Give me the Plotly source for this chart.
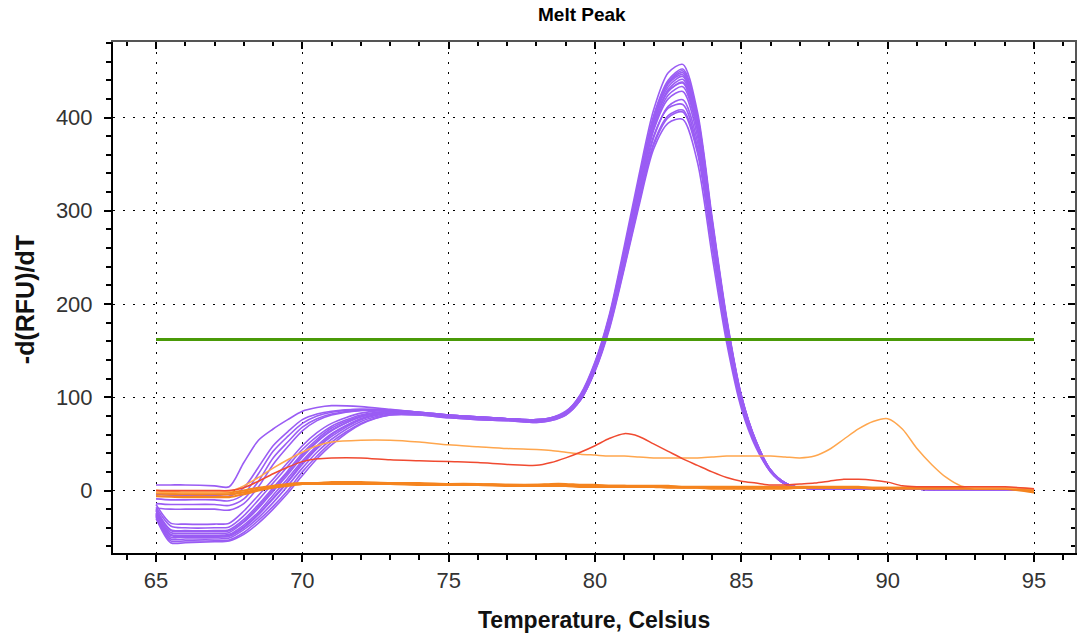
import plotly.graph_objects as go

# ---------------- data ----------------
T_PURPLE = [65.0, 65.5, 66.0, 67.0, 67.5, 68.0, 68.5, 69.0, 69.5, 70.0, 70.5, 71.0, 72.0, 73.0,
            74.0, 75.0, 76.0, 77.0, 78.0, 78.5, 79.0, 79.5, 80.0, 80.5, 81.0, 81.5, 82.0, 82.5,
            83.0, 83.5, 84.0, 84.5, 85.0, 85.5, 86.0, 86.5, 87.0, 88.0, 90.0, 92.0, 95.0]

PURPLE_A = [6, 6, 6, 5, 4, 30, 54, 66, 76, 85, 89, 91, 90, 87, 84, 81, 79, 77, 76, 78, 84, 100, 132, 180, 246, 316, 380, 410, 414, 368, 264, 165, 92, 48, 20, 7, 3, 2, 2, 1, 1]
PURPLE_B1 = [-4, -5, -5, -5, -6, 3, 25, 48, 63, 76, 82, 85, 87, 86, 84, 81, 79, 77, 75, 77, 82, 97, 128, 174, 238, 305, 366, 394, 398, 352, 252, 158, 88, 46, 20, 7, 3, 2, 2, 1, 1]
PURPLE_B2 = [-9, -10, -10, -10, -11, -4, 18, 42, 58, 72, 80, 84, 87, 86, 83, 80, 78, 77, 75, 77, 83, 99, 133, 183, 252, 325, 392, 428, 437, 388, 280, 175, 97, 50, 21, 7, 3, 2, 2, 1, 1]
PURPLE_B3 = [-14, -15, -15, -15, -16, -9, 10, 35, 52, 68, 77, 82, 86, 85, 82, 79, 77, 76, 74, 76, 81, 97, 130, 180, 248, 320, 386, 420, 428, 380, 272, 170, 95, 49, 21, 7, 3, 2, 2, 1, 1]
PURPLE_B4 = [-19, -20, -20, -20, -21, -14, 4, 28, 47, 64, 75, 81, 86, 85, 82, 79, 77, 76, 74, 76, 82, 100, 135, 186, 256, 330, 398, 436, 446, 396, 286, 180, 100, 52, 22, 8, 3, 2, 2, 1, 1]
PURPLE_C1 = [-15, -35, -36, -36, -35, -22, -5, 12, 30, 48, 62, 72, 83, 86, 84, 81, 79, 77, 76, 78, 85, 102, 137, 188, 258, 333, 402, 440, 452, 402, 290, 183, 102, 53, 22, 8, 3, 2, 2, 1, 1]
PURPLE_C2 = [-18, -38, -40, -40, -39, -27, -10, 8, 26, 44, 58, 69, 81, 85, 83, 80, 78, 77, 75, 77, 84, 101, 135, 185, 254, 328, 396, 433, 444, 395, 285, 180, 100, 52, 22, 8, 3, 2, 2, 1, 1]
PURPLE_C3 = [-20, -42, -43, -43, -42, -31, -15, 3, 21, 40, 55, 67, 80, 84, 82, 80, 78, 77, 75, 77, 83, 100, 133, 182, 250, 322, 388, 424, 433, 386, 278, 176, 98, 51, 21, 7, 3, 2, 2, 1, 1]
PURPLE_C4 = [-22, -45, -46, -46, -45, -34, -19, -1, 17, 36, 52, 64, 79, 85, 84, 81, 79, 77, 76, 78, 84, 102, 136, 187, 257, 331, 399, 437, 448, 398, 287, 181, 100, 52, 22, 8, 3, 2, 2, 1, 1]
PURPLE_C5 = [-24, -47, -48, -48, -47, -37, -23, -5, 13, 32, 48, 61, 77, 84, 83, 80, 78, 77, 75, 77, 83, 100, 134, 184, 252, 325, 392, 428, 438, 390, 281, 177, 98, 51, 21, 7, 3, 2, 2, 1, 1]
PURPLE_C6 = [-25, -50, -50, -50, -49, -40, -26, -9, 9, 28, 45, 58, 76, 83, 82, 79, 77, 76, 74, 76, 82, 97, 129, 176, 240, 308, 370, 400, 406, 362, 262, 166, 93, 49, 20, 7, 3, 2, 2, 1, 1]
PURPLE_C7 = [-27, -52, -52, -52, -51, -42, -29, -13, 5, 24, 41, 55, 74, 82, 82, 79, 77, 76, 74, 76, 83, 101, 135, 186, 256, 330, 399, 438, 450, 401, 289, 182, 101, 53, 22, 8, 3, 2, 2, 1, 1]
PURPLE_C8 = [-28, -54, -54, -54, -53, -45, -32, -17, 0, 20, 37, 52, 72, 81, 81, 78, 76, 75, 73, 75, 81, 97, 129, 177, 243, 313, 378, 412, 419, 374, 269, 170, 95, 49, 21, 7, 3, 2, 2, 1, 1]
PURPLE_C9 = [-30, -56, -56, -55, -54, -47, -35, -20, -3, 16, 34, 49, 71, 81, 81, 78, 76, 75, 73, 75, 82, 99, 132, 182, 251, 324, 392, 430, 441, 392, 283, 179, 99, 51, 21, 7, 3, 2, 2, 1, 1]
PURPLE_C10 = [-26, -48, -49, -49, -48, -39, -25, -8, 10, 30, 46, 60, 77, 84, 83, 80, 78, 77, 75, 77, 84, 103, 138, 190, 262, 338, 408, 448, 457, 406, 293, 185, 102, 53, 22, 8, 3, 2, 2, 1, 1]
PURPLE_C11 = [-21, -43, -44, -44, -43, -33, -17, 1, 19, 38, 53, 65, 79, 84, 82, 79, 77, 76, 74, 76, 82, 98, 130, 178, 242, 310, 372, 402, 408, 366, 264, 167, 94, 49, 21, 7, 3, 2, 2, 1, 1]

PURPLE_CURVES = [PURPLE_A, PURPLE_B1, PURPLE_B2, PURPLE_B3, PURPLE_B4, PURPLE_C1, PURPLE_C2,
                 PURPLE_C3, PURPLE_C4, PURPLE_C5, PURPLE_C6, PURPLE_C7, PURPLE_C8, PURPLE_C9,
                 PURPLE_C10, PURPLE_C11]

T_OTHER = [65, 66, 67, 67.5, 68, 68.5, 69, 69.5, 70, 70.5, 71, 72, 73, 74, 75, 76, 77, 78, 78.5, 79,
           79.5, 80, 80.5, 81, 81.5, 82, 82.5, 83, 83.5, 84, 84.5, 85, 85.5, 86, 86.5, 87, 87.5, 88,
           88.5, 89, 89.5, 90, 90.5, 91, 91.5, 92, 92.5, 93, 94, 95]

LIGHT_ORANGE = [-2, -2, -2, -1, 5, 14, 24, 33, 41, 48, 52, 54, 54, 52, 49, 47, 45, 44, 43, 41, 39, 38, 37, 37, 36, 35, 35, 35, 35, 36, 37, 37, 37, 37, 36, 35, 37, 44, 55, 66, 74, 77, 66, 45, 28, 14, 5, 3, 3, 2]
RED = [0, 0, 0, 0, 3, 10, 18, 25, 31, 34, 35, 35, 33, 32, 31, 30, 28, 27, 30, 35, 41, 48, 56, 61, 58, 50, 42, 34, 27, 20, 14, 10, 8, 6, 6, 7, 8, 10, 12, 12, 11, 9, 5, 4, 4, 4, 4, 4, 4, 2]
ORANGE_1 = [-3, -4, -4, -4, -2, 1, 4, 6, 7, 8, 8, 8, 8, 7, 7, 7, 6, 6, 6, 5, 5, 5, 5, 5, 5, 5, 5, 4, 4, 4, 4, 4, 4, 4, 4, 4, 4, 4, 4, 4, 3, 3, 3, 3, 3, 3, 3, 3, 3, 1]
ORANGE_2 = [-6, -7, -7, -7, -4, 0, 3, 5, 7, 7, 7, 7, 7, 6, 6, 6, 5, 5, 5, 5, 4, 4, 4, 4, 4, 4, 4, 3, 3, 3, 3, 3, 3, 3, 3, 3, 3, 3, 3, 3, 3, 3, 3, 3, 3, 3, 3, 2, 2, -2]
ORANGE_3 = [0, -2, -2, -2, 0, 3, 5, 7, 8, 8, 9, 9, 8, 8, 7, 7, 6, 6, 7, 7, 6, 6, 5, 5, 4, 4, 3, 3, 3, 2, 2, 2, 2, 2, 2, 3, 3, 3, 3, 3, 2, 2, 2, 2, 2, 2, 2, 2, 2, 0]

THRESHOLD_X = [65, 95]
THRESHOLD_Y = [162, 162]

X_TICKS = [65, 70, 75, 80, 85, 90, 95]
Y_TICKS = [0, 100, 200, 300, 400]

# ---------------- figure ----------------
PURPLE = "#9a5cf4"
fig = go.Figure()

for ys in PURPLE_CURVES:
    fig.add_trace(go.Scatter(x=T_PURPLE, y=ys, mode="lines",
                             line=dict(color=PURPLE, width=1.6, shape="spline", smoothing=0.8),
                             hoverinfo="skip"))

for ys in (ORANGE_1, ORANGE_2, ORANGE_3):
    fig.add_trace(go.Scatter(x=T_OTHER, y=ys, mode="lines",
                             line=dict(color="#f5841f", width=2.2, shape="spline", smoothing=0.6),
                             hoverinfo="skip"))

fig.add_trace(go.Scatter(x=T_OTHER, y=LIGHT_ORANGE, mode="lines",
                         line=dict(color="#ffa64d", width=1.5, shape="spline", smoothing=0.8),
                         hoverinfo="skip"))
fig.add_trace(go.Scatter(x=T_OTHER, y=RED, mode="lines",
                         line=dict(color="#f04a30", width=1.5, shape="spline", smoothing=0.8),
                         hoverinfo="skip"))
fig.add_trace(go.Scatter(x=THRESHOLD_X, y=THRESHOLD_Y, mode="lines",
                         line=dict(color="#4a9a08", width=3), hoverinfo="skip"))

# invisible trace to create mirrored (inside-ticked) top/right axes
fig.add_trace(go.Scatter(x=[None], y=[None], xaxis="x2", yaxis="y2", mode="lines",
                         hoverinfo="skip"))

XR = [63.53, 96.4]
YR = [-67, 481]
tickfont = dict(family="Liberation Sans, Arial, sans-serif", size=22, color="#333333")

fig.update_layout(
    width=1077, height=636,
    margin=dict(l=113, r=2, t=42, b=83),
    paper_bgcolor="white", plot_bgcolor="white",
    showlegend=False,
    xaxis=dict(range=XR, tickvals=X_TICKS, ticks="outside", ticklen=7, tickwidth=1.5,
               tickcolor="black", showline=True, linecolor="black", linewidth=2,
               showgrid=True, gridcolor="black", gridwidth=1, griddash="2px,8px",
               zeroline=False, tickfont=tickfont, ticklabelstandoff=0,
               minor=dict(dtick=1, ticks="outside", ticklen=5, tickwidth=1.5,
                          tickcolor="black", showgrid=False)),
    yaxis=dict(range=YR, tickvals=Y_TICKS, ticks="outside", ticklen=7, tickwidth=1.5,
               tickcolor="black", showline=True, linecolor="black", linewidth=2,
               showgrid=True, gridcolor="black", gridwidth=1, griddash="2px,8px",
               zeroline=False, tickfont=tickfont, ticklabelstandoff=7,
               minor=dict(dtick=20, ticks="outside", ticklen=5, tickwidth=1.5,
                          tickcolor="black", showgrid=False)),
    xaxis2=dict(range=XR, overlaying="x", side="top", anchor="y2", tickvals=X_TICKS,
                ticks="inside", ticklen=7, tickwidth=1.5, tickcolor="black",
                showticklabels=False, showline=True, linecolor="#555555", linewidth=2,
                showgrid=False, zeroline=False,
                minor=dict(dtick=1, ticks="inside", ticklen=4, tickwidth=1.5,
                           tickcolor="black", showgrid=False)),
    yaxis2=dict(range=YR, overlaying="y", side="right", anchor="x2", tickvals=Y_TICKS,
                ticks="inside", ticklen=7, tickwidth=1.5, tickcolor="black",
                showticklabels=False, showline=True, linecolor="#555555", linewidth=2,
                showgrid=False, zeroline=False,
                minor=dict(dtick=20, ticks="inside", ticklen=4, tickwidth=1.5,
                           tickcolor="black", showgrid=False)),
    annotations=[
        dict(text="<b>Melt Peak</b>", xref="paper", yref="paper", x=0.488, y=1.053,
             showarrow=False, xanchor="center", yanchor="middle",
             font=dict(family="Liberation Sans, Arial", size=19, color="black")),
        dict(text="<b>Temperature, Celsius</b>", xref="paper", yref="paper", x=0.5,
             y=-0.131, showarrow=False, xanchor="center", yanchor="middle",
             font=dict(family="Liberation Sans, Arial", size=23, color="#111111")),
        dict(text="<b>-d(RFU)/dT</b>", xref="paper", yref="paper", x=-0.0914, y=0.495,
             showarrow=False, xanchor="center", yanchor="middle", textangle=-90,
             font=dict(family="Liberation Sans, Arial", size=25, color="#111111")),
    ],
)

fig.write_html("out.html")
